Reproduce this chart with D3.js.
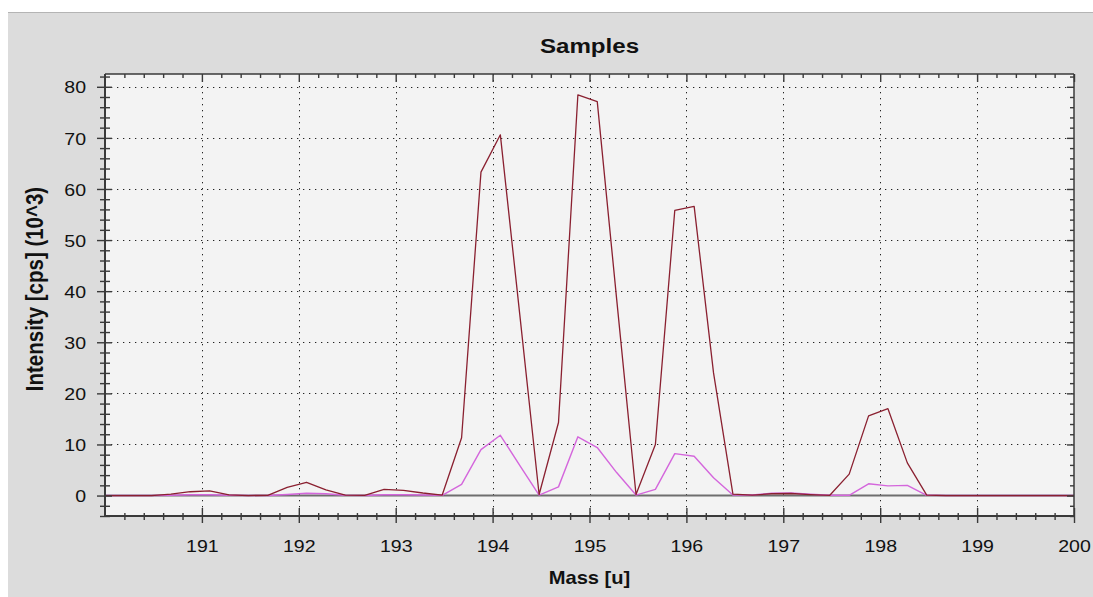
<!DOCTYPE html>
<html>
<head>
<meta charset="utf-8">
<script src="https://cdn.jsdelivr.net/npm/d3@7"></script>
<style>
  html, body { margin: 0; padding: 0; background: #ffffff; }
  svg { display: block; }
  text { font-family: "Liberation Sans", Arial, sans-serif; fill: #111; }
</style>
</head>
<body>
<svg id="chart" width="1093" height="597"></svg>
<script>
// ---------------- data ----------------
const masses = [189.88, 190.08, 190.28, 190.48, 190.68, 190.88, 191.08, 191.28, 191.48, 191.68,
  191.88, 192.08, 192.28, 192.48, 192.68, 192.88, 193.08, 193.28, 193.48, 193.68,
  193.88, 194.08, 194.28, 194.48, 194.68, 194.88, 195.08, 195.28, 195.48, 195.68,
  195.88, 196.08, 196.28, 196.48, 196.68, 196.88, 197.08, 197.28, 197.48, 197.68,
  197.88, 198.08, 198.28, 198.48, 198.68, 198.88, 199.08, 199.28, 199.48, 199.68,
  199.88, 200.08];

const sampleA = [0, 0, 0, 0, 0.3, 0.75, 0.9, 0.15, 0, 0.05,
  1.6, 2.6, 1.1, 0.1, 0.05, 1.2, 1.0, 0.5, 0.1, 11.3,
  63.3, 70.6, 35.5, 0.2, 14.3, 78.4, 77.1, 38.5, 0.2, 10.0,
  55.8, 56.6, 24.0, 0.3, 0.1, 0.35, 0.4, 0.2, 0.05, 4.2,
  15.6, 17.0, 6.4, 0.1, 0, 0, 0, 0, 0, 0,
  0, 0];

const sampleB = [0, 0, 0, 0, 0.05, 0.15, 0.15, 0.05, 0, 0,
  0.2, 0.45, 0.35, 0.05, 0, 0.15, 0.15, 0.1, 0.05, 2.2,
  9.0, 11.8, 5.9, 0.1, 1.7, 11.5, 9.4, 4.5, 0.1, 1.2,
  8.2, 7.7, 3.5, 0.1, 0.1, 0.45, 0.5, 0.25, 0.05, 0.05,
  2.3, 1.9, 2.0, 0.05, 0, 0, 0, 0, 0, 0,
  0, 0];

const xTicks = [191, 192, 193, 194, 195, 196, 197, 198, 199, 200];
const yTicks = [0, 10, 20, 30, 40, 50, 60, 70, 80];
const titleText = "Samples";
const xLabel = "Mass [u]";
const yLabel = "Intensity [cps] (10^3)";

// ---------------- layout ----------------
const svg = d3.select("#chart");
const W = 1093, H = 597;
const plot = { left: 105, top: 74, right: 1074, bottom: 516 };
const SX = 1.15; // horizontal stretch of the lettering

// backgrounds
svg.append("rect").attr("x", 0).attr("y", 0).attr("width", W).attr("height", H).attr("fill", "#ffffff");
svg.append("rect").attr("x", 8).attr("y", 12).attr("width", W - 8).attr("height", H - 12).attr("fill", "#dcdcdc");
svg.append("line").attr("x1", 8).attr("x2", W).attr("y1", 12.5).attr("y2", 12.5).attr("stroke", "#b4b4b4").attr("stroke-width", 1);
svg.append("rect").attr("x", plot.left).attr("y", plot.top)
  .attr("width", plot.right - plot.left).attr("height", plot.bottom - plot.top).attr("fill", "#f3f3f3");

const x = d3.scaleLinear().domain([190, 200]).range([plot.left, plot.right]);
const y = d3.scaleLinear().domain([-4, 82.5]).range([plot.bottom, plot.top]);

const xMinor = d3.range(0, 51).map(i => 190 + i * 0.2).filter(v => Math.abs(v - Math.round(v)) > 0.01);
const yMinor = d3.range(-2, 42).map(i => i * 2).filter(v => v % 10 !== 0 && v >= -4 && v <= 82.5);

// grid
const grid = svg.append("g");
grid.selectAll("line.vg").data(xTicks.filter(d => d < 200)).enter().append("line")
  .attr("x1", d => Math.round(x(d)) + 0.5).attr("x2", d => Math.round(x(d)) + 0.5)
  .attr("y1", plot.top).attr("y2", plot.bottom)
  .attr("stroke", "#222").attr("stroke-width", 1).attr("stroke-dasharray", "1.3,4.7");
grid.selectAll("line.hg").data(yTicks.filter(d => d > 0)).enter().append("line")
  .attr("x1", plot.left).attr("x2", plot.right)
  .attr("y1", d => Math.round(y(d)) + 0.5).attr("y2", d => Math.round(y(d)) + 0.5)
  .attr("stroke", "#222").attr("stroke-width", 1).attr("stroke-dasharray", "1.3,4.7");

// zero line
svg.append("line").attr("x1", plot.left).attr("x2", plot.right)
  .attr("y1", y(0)).attr("y2", y(0)).attr("stroke", "#6e6e6e").attr("stroke-width", 2);

// series
svg.append("clipPath").attr("id", "clip").append("rect")
  .attr("x", plot.left).attr("y", plot.top).attr("width", plot.right - plot.left).attr("height", plot.bottom - plot.top);
const lineGen = vals => d3.line().x((d, i) => x(masses[i])).y(d => y(d))(vals);
const series = svg.append("g").attr("clip-path", "url(#clip)");
series.append("path").attr("d", lineGen(sampleB)).attr("fill", "none")
  .attr("stroke", "#d466dc").attr("stroke-width", 1.4).attr("stroke-linejoin", "round");
series.append("path").attr("d", lineGen(sampleA)).attr("fill", "none")
  .attr("stroke", "#8a2030").attr("stroke-width", 1.3).attr("stroke-linejoin", "round");

// ---------------- axes ----------------
const axisColor = "#3a3a3a";
function styleAxis(g) {
  g.select(".domain").remove();
  g.selectAll("line").attr("stroke", axisColor).attr("stroke-width", 1.4);
}

// left axis (ticks crossing)
const gLeftMinor = svg.append("g").attr("transform", `translate(${plot.left},0)`)
  .call(d3.axisLeft(y).tickValues(yMinor).tickSize(5).tickFormat(""));
styleAxis(gLeftMinor);
gLeftMinor.selectAll(".tick line").attr("x2", -5).attr("x1", 5);
const gLeft = svg.append("g").attr("transform", `translate(${plot.left},0)`)
  .call(d3.axisLeft(y).tickValues(yTicks).tickSize(8).tickFormat(d3.format("d")));
styleAxis(gLeft);
gLeft.selectAll(".tick line").attr("x2", -8).attr("x1", 7);
gLeft.selectAll(".tick text").attr("font-size", 17).attr("fill", "#111")
  .attr("x", 0).attr("dy", "0.36em").attr("transform", `translate(-19,0) scale(${SX},1)`);

// bottom axis (ticks crossing)
const gBotMinor = svg.append("g").attr("transform", `translate(0,${plot.bottom})`)
  .call(d3.axisBottom(x).tickValues(xMinor).tickSize(4).tickFormat(""));
styleAxis(gBotMinor);
gBotMinor.selectAll(".tick line").attr("y1", -3).attr("y2", 4);
const gBot = svg.append("g").attr("transform", `translate(0,${plot.bottom})`)
  .call(d3.axisBottom(x).tickValues(xTicks).tickSize(7).tickFormat(d3.format("d")));
styleAxis(gBot);
gBot.selectAll(".tick line").attr("y1", -8).attr("y2", 7);
gBot.selectAll(".tick text").attr("font-size", 17).attr("fill", "#111")
  .attr("y", 36).attr("dy", 0).attr("transform", `scale(${SX},1)`);

// top axis (inward ticks)
const gTopMinor = svg.append("g").attr("transform", `translate(0,${plot.top})`)
  .call(d3.axisTop(x).tickValues(xMinor).tickSize(-4).tickFormat(""));
styleAxis(gTopMinor);
const gTop = svg.append("g").attr("transform", `translate(0,${plot.top})`)
  .call(d3.axisTop(x).tickValues(xTicks).tickSize(-8).tickFormat(""));
styleAxis(gTop);

// right axis (inward ticks)
const gRightMinor = svg.append("g").attr("transform", `translate(${plot.right},0)`)
  .call(d3.axisRight(y).tickValues(yMinor).tickSize(-4).tickFormat(""));
styleAxis(gRightMinor);
const gRight = svg.append("g").attr("transform", `translate(${plot.right},0)`)
  .call(d3.axisRight(y).tickValues(yTicks).tickSize(-7).tickFormat(""));
styleAxis(gRight);

// frame lines
svg.append("line").attr("x1", plot.left).attr("x2", plot.left).attr("y1", plot.top).attr("y2", plot.bottom)
  .attr("stroke", axisColor).attr("stroke-width", 2);
svg.append("line").attr("x1", plot.left).attr("x2", plot.right).attr("y1", plot.bottom).attr("y2", plot.bottom)
  .attr("stroke", axisColor).attr("stroke-width", 2);
svg.append("line").attr("x1", plot.left).attr("x2", plot.right).attr("y1", plot.top).attr("y2", plot.top)
  .attr("stroke", axisColor).attr("stroke-width", 1.5);
svg.append("line").attr("x1", plot.right).attr("x2", plot.right).attr("y1", plot.top).attr("y2", plot.bottom)
  .attr("stroke", axisColor).attr("stroke-width", 1.5);

// titles
const cx = (plot.left + plot.right) / 2;
svg.append("text").attr("transform", `translate(${cx},53) scale(${SX},1)`)
  .attr("text-anchor", "middle").attr("font-size", 21).attr("font-weight", "bold").text(titleText);
svg.append("text").attr("transform", `translate(${cx},584) scale(${SX},1)`)
  .attr("text-anchor", "middle").attr("font-size", 17.5).attr("font-weight", "bold").text(xLabel);
svg.append("text").attr("transform", `translate(43,289) scale(${SX},1) rotate(-90)`)
  .attr("text-anchor", "middle").attr("font-size", 20.5).attr("font-weight", "bold").text(yLabel);
</script>
</body>
</html>
